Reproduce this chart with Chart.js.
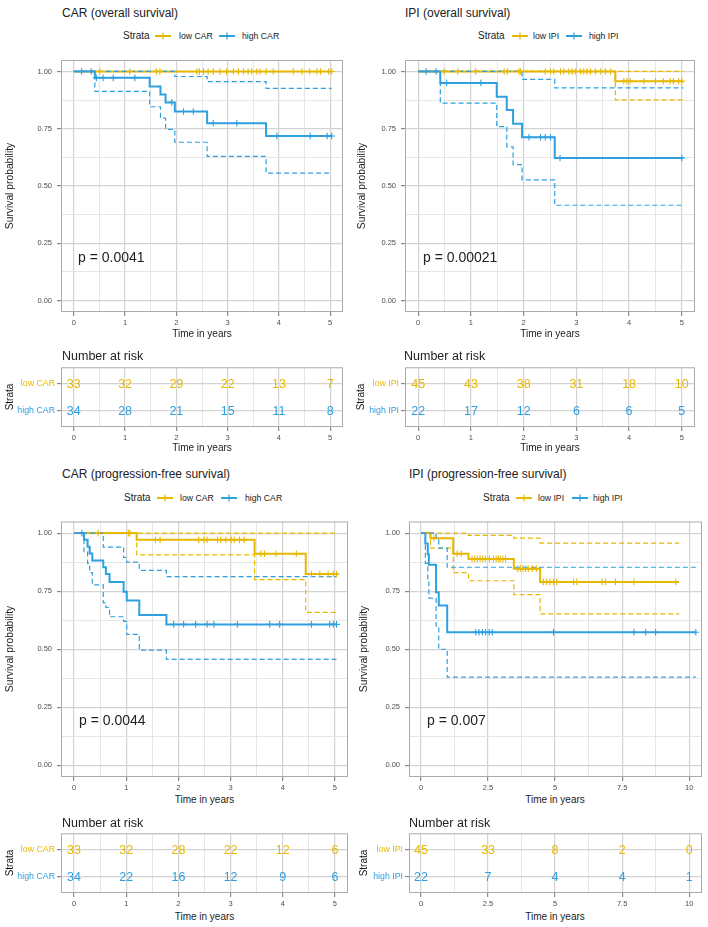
<!DOCTYPE html>
<html><head><meta charset="utf-8">
<script src="https://cdn.jsdelivr.net/npm/chart.js@4.4.1/dist/chart.umd.min.js"></script>
<style>
html,body{margin:0;padding:0;background:#fff;}
#root{position:relative;width:708px;height:927px;overflow:hidden;font-family:"Liberation Sans",Arial,Helvetica,sans-serif;color:#333;}
canvas{position:absolute;}
.t{position:absolute;white-space:nowrap;line-height:1;}
</style></head><body><div id="root"></div>
<script>
// ---------------- DATA ----------------
// Strata names
const carStrata = ['low CAR', 'high CAR'];
const ipiStrata = ['low IPI', 'high IPI'];
// axis ticks
const survTicks = [0, 0.25, 0.5, 0.75, 1];
const survTickLabels = ['0.00', '0.25', '0.50', '0.75', '1.00'];
const yearTicks5 = [0, 1, 2, 3, 4, 5];
const yearTickLabels5 = ['0', '1', '2', '3', '4', '5'];
const yearTicks10 = [0, 2.5, 5, 7.5, 10];
const yearTickLabels10 = ['0', '2.5', '5', '7.5', '10'];

// Panel A: CAR, overall survival
const osCarLowTime = [0, 5.03];
const osCarLowSurv = [1, 1];
const osCarLowCensor = [0.51, 1.09, 1.61, 1.68, 2.40, 2.45, 2.53, 2.62, 2.72, 2.85, 2.98, 3.11, 3.21, 3.31, 3.40, 3.47, 3.57, 3.63, 3.75, 3.89, 4.28, 4.45, 4.60, 4.74, 4.81, 4.97, 5.03];
const osCarHighTime = [0, 0.41, 1.48, 1.69, 1.79, 1.97, 2.60, 3.75, 5.03];
const osCarHighSurv = [1, 0.972, 0.934, 0.899, 0.865, 0.825, 0.774, 0.718, 0.718];
const osCarHighUpper = [1, 1, 1, 1, 1, 0.978, 0.956, 0.926, 0.926];
const osCarHighLower = [1, 0.913, 0.846, 0.796, 0.747, 0.691, 0.629, 0.556, 0.556];
const osCarHighCensor = [0.15, 0.34, 0.44, 0.57, 0.77, 1.19, 1.91, 2.14, 2.33, 2.72, 3.18, 3.96, 4.61, 4.94, 5.03];
const osCarRiskTime = [0, 1, 2, 3, 4, 5];
const osCarRiskLow = [33, 32, 29, 22, 13, 7];
const osCarRiskHigh = [34, 28, 21, 15, 11, 8];

// Panel B: IPI, overall survival
const osIpiLowTime = [0, 3.74, 5.03];
const osIpiLowSurv = [1, 0.957, 0.957];
const osIpiLowUpper = [1, 1, 1];
const osIpiLowLower = [1, 0.876, 0.876];
const osIpiLowCensor = [0.49, 0.75, 1.09, 1.63, 1.69, 1.91, 1.94, 2.41, 2.51, 2.57, 2.70, 2.76, 2.86, 2.92, 2.98, 3.08, 3.14, 3.20, 3.27, 3.36, 3.46, 3.55, 3.65, 3.90, 3.96, 4.02, 4.28, 4.50, 4.65, 4.78, 4.84, 4.94, 5.0];
const osIpiHighTime = [0, 0.42, 1.49, 1.68, 1.80, 1.97, 2.59, 5.03];
const osIpiHighSurv = [1, 0.95, 0.89, 0.832, 0.772, 0.713, 0.622, 0.622];
const osIpiHighUpper = [1, 1, 1, 1, 1, 0.965, 0.928, 0.928];
const osIpiHighLower = [1, 0.862, 0.759, 0.671, 0.593, 0.527, 0.416, 0.416];
const osIpiHighCensor = [0.15, 0.34, 0.54, 1.19, 2.10, 2.32, 2.41, 2.51, 2.69, 5.0];
const osIpiRiskTime = [0, 1, 2, 3, 4, 5];
const osIpiRiskLow = [45, 43, 38, 31, 18, 10];
const osIpiRiskHigh = [22, 17, 12, 6, 6, 5];

// Panel C: CAR, progression-free survival
const pfsCarLowTime = [0, 1.2, 3.46, 4.44, 5.06];
const pfsCarLowSurv = [1, 0.971, 0.911, 0.824, 0.824];
const pfsCarLowUpper = [1, 1, 1, 1, 1];
const pfsCarLowLower = [1, 0.906, 0.80, 0.659, 0.659];
const pfsCarLowCensor = [0.46, 1.04, 1.07, 1.56, 1.65, 2.39, 2.49, 2.55, 2.75, 2.81, 2.91, 3.01, 3.07, 3.17, 3.26, 3.58, 3.65, 3.87, 4.26, 4.55, 4.71, 4.87, 4.97, 5.03];
const pfsCarHighTime = [0, 0.19, 0.26, 0.30, 0.35, 0.56, 0.61, 0.68, 0.95, 1.01, 1.25, 1.77, 5.03];
const pfsCarHighSurv = [1, 0.971, 0.941, 0.912, 0.882, 0.853, 0.824, 0.79, 0.748, 0.71, 0.647, 0.607, 0.607];
const pfsCarHighUpper = [1, 1, 1, 1, 1, 0.94, 0.94, 0.94, 0.895, 0.875, 0.84, 0.813, 0.813];
const pfsCarHighLower = [1, 0.92, 0.87, 0.83, 0.777, 0.70, 0.68, 0.64, 0.62, 0.564, 0.496, 0.456, 0.456];
const pfsCarHighCensor = [0.15, 1.91, 2.10, 2.33, 2.55, 2.68, 3.13, 3.75, 3.94, 4.55, 4.90, 4.97, 5.03];
const pfsCarRiskTime = [0, 1, 2, 3, 4, 5];
const pfsCarRiskLow = [33, 32, 28, 22, 12, 6];
const pfsCarRiskHigh = [34, 22, 16, 12, 9, 6];

// Panel D: IPI, progression-free survival
const pfsIpiLowTime = [0, 0.35, 1.2, 1.77, 3.46, 4.44, 9.63];
const pfsIpiLowSurv = [1, 0.978, 0.911, 0.889, 0.847, 0.79, 0.79];
const pfsIpiLowUpper = [1, 1, 1, 0.99, 0.978, 0.957, 0.957];
const pfsIpiLowLower = [1, 0.935, 0.83, 0.795, 0.735, 0.652, 0.652];
const pfsIpiLowCensor = [0.48, 1.35, 1.5, 1.9, 2.0, 2.1, 2.2, 2.3, 2.4, 2.55, 2.7, 2.8, 2.88, 2.95, 3.05, 3.15, 3.6, 3.7, 3.8, 3.9, 4.0, 4.15, 4.3, 4.56, 4.69, 4.81, 4.94, 5.06, 5.69, 5.81, 6.75, 6.88, 7.25, 7.94, 9.5];
const pfsIpiHighTime = [0, 0.16, 0.25, 0.29, 0.56, 0.66, 0.975, 10.25];
const pfsIpiHighSurv = [1, 0.955, 0.909, 0.864, 0.745, 0.688, 0.573, 0.573];
const pfsIpiHighUpper = [1, 1, 1, 1, 0.97, 0.935, 0.853, 0.853];
const pfsIpiHighLower = [1, 0.87, 0.80, 0.72, 0.60, 0.50, 0.38, 0.38];
const pfsIpiHighCensor = [2.04, 2.16, 2.29, 2.41, 2.54, 2.66, 4.94, 7.94, 8.38, 8.75, 10.25];
const pfsIpiRiskTime = [0, 2.5, 5, 7.5, 10];
const pfsIpiRiskLow = [45, 33, 8, 2, 0];
const pfsIpiRiskHigh = [22, 7, 4, 4, 1];

// ---------------- STYLE / HELPERS ----------------
const FONT = '"Liberation Sans", Arial, Helvetica, sans-serif';
const YELLOW = '#E7B800', BLUE = '#2E9FDF';
const root = document.getElementById('root');

function txt(str, x, y, size, o = {}) {
  const d = document.createElement('div');
  d.className = 't'; d.textContent = str;
  d.style.fontSize = size + 'px';
  d.style.left = x + 'px'; d.style.top = y + 'px';
  if (o.color) d.style.color = o.color;
  if (o.rot) d.style.transform = 'translate(-50%,-50%) rotate(-90deg)';
  else if (o.center) d.style.transform = 'translate(-50%,-50%)';
  else d.style.transform = 'translateY(-50%)';
  root.appendChild(d);
}
function key(x, y, color) {
  const ns = 'http://www.w3.org/2000/svg';
  const s = document.createElementNS(ns, 'svg');
  s.setAttribute('width', 16); s.setAttribute('height', 10);
  s.style.position = 'absolute'; s.style.left = x + 'px'; s.style.top = (y - 5) + 'px';
  s.innerHTML = '<line x1="0" y1="5" x2="16" y2="5" stroke="' + color + '" stroke-width="2"/>' +
                '<line x1="8" y1="1.5" x2="8" y2="8.5" stroke="' + color + '" stroke-width="1.2"/>';
  root.appendChild(s);
}
function makeCanvas(b) {
  const c = document.createElement('canvas');
  c.width = b.w; c.height = b.h;
  c.style.left = b.x + 'px'; c.style.top = b.y + 'px';
  c.style.width = b.w + 'px'; c.style.height = b.h + 'px';
  root.appendChild(c);
  return c;
}
function mids(arr) { const m = []; for (let i = 0; i < arr.length - 1; i++) m.push((arr[i] + arr[i + 1]) / 2); return m; }
function stepAt(times, surv, t) { let s = surv[0]; for (let i = 0; i < times.length; i++) if (times[i] <= t + 1e-9) s = surv[i]; return s; }
function pts(times, vals) { return times.map((t, i) => ({ x: t, y: vals[i] })); }

const framePlugin = {
  id: 'frame',
  afterDatasetsDraw(chart) {
    const a = chart.chartArea, ctx = chart.ctx;
    ctx.save(); ctx.strokeStyle = '#ababab'; ctx.lineWidth = 1;
    ctx.strokeRect(a.left + 0.5, a.top + 0.5, a.right - a.left - 1, a.bottom - a.top - 1);
    ctx.restore();
  }
};
const countsPlugin = {
  id: 'counts',
  afterDatasetsDraw(chart) {
    const ctx = chart.ctx;
    chart.data.datasets.forEach((ds, i) => {
      if (!ds.counts) return;
      const meta = chart.getDatasetMeta(i);
      ctx.save();
      ctx.font = '12.5px ' + FONT; ctx.fillStyle = ds.textColor;
      ctx.textAlign = 'center'; ctx.textBaseline = 'middle';
      meta.data.forEach((p, j) => ctx.fillText(String(ds.counts[j]), p.x, p.y + 0.5));
      ctx.restore();
    });
  }
};

function axis(o) {
  const majors = o.majors, minors = o.minors || [];
  const isMaj = v => majors.some(m => Math.abs(m - v) < 1e-9);
  return {
    type: 'linear', min: o.min, max: o.max, reverse: !!o.reverse,
    afterBuildTicks(s) { s.ticks = majors.concat(minors).sort((a, b) => a - b).map(v => ({ value: v })); },
    afterFit(s) { s[o.sizeProp] = o.size; },
    ticks: {
      autoSkip: false, maxRotation: 0, minRotation: 0, padding: o.pad,
      font: { family: FONT, size: o.fontSize || 7.5 },
      color: c => {
        if (o.colors && c.tick) { const i = majors.findIndex(m => Math.abs(m - c.tick.value) < 1e-9); return i >= 0 ? o.colors[i] : '#4d4d4d'; }
        return '#4d4d4d';
      },
      callback: v => { const i = majors.findIndex(m => Math.abs(m - v) < 1e-9); return i < 0 ? '' : o.labels[i]; }
    },
    grid: {
      color: c => (c.tick && isMaj(c.tick.value)) ? '#d3d3d3' : '#e3e3e3',
      lineWidth: c => (c.tick && isMaj(c.tick.value)) ? 1.2 : 0.9,
      tickColor: c => (c.tick && isMaj(c.tick.value)) ? '#8a8a8a' : 'rgba(0,0,0,0)',
      tickLength: 4, drawTicks: true
    },
    border: { display: false }
  };
}

function baseOptions(cb, fr, xAxis, yAxis) {
  return {
    responsive: false, animation: false, events: [],
    layout: { autoPadding: false, padding: { top: fr.t - cb.y, right: cb.x + cb.w - fr.r, left: 0, bottom: 0 } },
    plugins: { legend: { display: false }, tooltip: { enabled: false } },
    scales: { x: xAxis, y: yAxis }
  };
}

function kmPanel(cb, fr, xr, xMaj, xLab, groups) {
  const cv = makeCanvas(cb);
  const ds = [];
  groups.forEach((g, gi) => {
    ds.push({ data: pts(g.time, g.surv), borderColor: g.color, borderWidth: 2, stepped: true, pointRadius: 0, fill: false, order: 20 - gi });
  });
  groups.forEach((g, gi) => {
    if (!g.upper) return;
    [g.upper, g.lower].forEach(v => ds.push({ data: pts(g.time, v), borderColor: g.color, borderWidth: 1.2, borderDash: [5, 3], stepped: true, pointRadius: 0, fill: false, order: 10 - gi }));
  });
  groups.forEach((g, gi) => {
    ds.push({ data: g.censor.map(t => ({ x: t, y: stepAt(g.time, g.surv, t) })), showLine: false, pointStyle: 'cross', pointRadius: 3.3, pointBorderWidth: 1.1, borderColor: g.color, backgroundColor: g.color, order: 5 - gi });
  });
  const xA = axis({ min: xr[0], max: xr[1], majors: xMaj, labels: xLab, minors: mids(xMaj), sizeProp: 'height', size: cb.y + cb.h - fr.b, pad: 2 });
  const yA = axis({ min: -0.05, max: 1.05, majors: survTicks, labels: survTickLabels, minors: mids(survTicks), sizeProp: 'width', size: fr.l - cb.x, pad: 5 });
  new Chart(cv, { type: 'line', data: { datasets: ds }, options: baseOptions(cb, fr, xA, yA), plugins: [framePlugin] });
}

function riskPanel(cb, fr, xr, xMaj, xLab, strata, times, low, high) {
  const cv = makeCanvas(cb);
  const ds = [
    { data: times.map(t => ({ x: t, y: 1 })), counts: low, textColor: YELLOW, showLine: false, pointRadius: 0 },
    { data: times.map(t => ({ x: t, y: 2 })), counts: high, textColor: BLUE, showLine: false, pointRadius: 0 }
  ];
  const xA = axis({ min: xr[0], max: xr[1], majors: xMaj, labels: xLab, minors: mids(xMaj), sizeProp: 'height', size: cb.y + cb.h - fr.b, pad: 2 });
  const yA = axis({ min: 0.4, max: 2.6, reverse: true, majors: [1, 2], labels: strata, minors: [], sizeProp: 'width', size: fr.l - cb.x, pad: 2, fontSize: 8.8, colors: [YELLOW, BLUE] });
  new Chart(cv, { type: 'line', data: { datasets: ds }, options: baseOptions(cb, fr, xA, yA), plugins: [framePlugin, countsPlugin] });
}

// ---------------- BUILD ----------------
// Panel A
kmPanel({ x: 0, y: 50, w: 354, h: 290 }, { l: 61, t: 60, r: 343, b: 312 }, [-0.25, 5.25], yearTicks5, yearTickLabels5, [
  { color: YELLOW, time: osCarLowTime, surv: osCarLowSurv, censor: osCarLowCensor },
  { color: BLUE, time: osCarHighTime, surv: osCarHighSurv, upper: osCarHighUpper, lower: osCarHighLower, censor: osCarHighCensor }
]);
riskPanel({ x: 0, y: 360, w: 354, h: 84 }, { l: 61, t: 367, r: 343, b: 427 }, [-0.25, 5.25], yearTicks5, yearTickLabels5, carStrata, osCarRiskTime, osCarRiskLow, osCarRiskHigh);

// Panel B
kmPanel({ x: 354, y: 50, w: 354, h: 290 }, { l: 405, t: 60, r: 695, b: 312 }, [-0.25, 5.25], yearTicks5, yearTickLabels5, [
  { color: YELLOW, time: osIpiLowTime, surv: osIpiLowSurv, upper: osIpiLowUpper, lower: osIpiLowLower, censor: osIpiLowCensor },
  { color: BLUE, time: osIpiHighTime, surv: osIpiHighSurv, upper: osIpiHighUpper, lower: osIpiHighLower, censor: osIpiHighCensor }
]);
riskPanel({ x: 354, y: 360, w: 354, h: 84 }, { l: 405, t: 367, r: 695, b: 427 }, [-0.25, 5.25], yearTicks5, yearTickLabels5, ipiStrata, osIpiRiskTime, osIpiRiskLow, osIpiRiskHigh);

// Panel C
kmPanel({ x: 0, y: 512, w: 354, h: 282 }, { l: 61, t: 521, r: 348, b: 777 }, [-0.25, 5.25], yearTicks5, yearTickLabels5, [
  { color: YELLOW, time: pfsCarLowTime, surv: pfsCarLowSurv, upper: pfsCarLowUpper, lower: pfsCarLowLower, censor: pfsCarLowCensor },
  { color: BLUE, time: pfsCarHighTime, surv: pfsCarHighSurv, upper: pfsCarHighUpper, lower: pfsCarHighLower, censor: pfsCarHighCensor }
]);
riskPanel({ x: 0, y: 826, w: 354, h: 84 }, { l: 61, t: 833, r: 348, b: 893 }, [-0.25, 5.25], yearTicks5, yearTickLabels5, carStrata, pfsCarRiskTime, pfsCarRiskLow, pfsCarRiskHigh);

// Panel D
kmPanel({ x: 354, y: 512, w: 354, h: 282 }, { l: 409, t: 521, r: 702, b: 777 }, [-0.45, 10.48], yearTicks10, yearTickLabels10, [
  { color: YELLOW, time: pfsIpiLowTime, surv: pfsIpiLowSurv, upper: pfsIpiLowUpper, lower: pfsIpiLowLower, censor: pfsIpiLowCensor },
  { color: BLUE, time: pfsIpiHighTime, surv: pfsIpiHighSurv, upper: pfsIpiHighUpper, lower: pfsIpiHighLower, censor: pfsIpiHighCensor }
]);
riskPanel({ x: 354, y: 826, w: 354, h: 84 }, { l: 409, t: 833, r: 702, b: 893 }, [-0.45, 10.48], yearTicks10, yearTickLabels10, ipiStrata, pfsIpiRiskTime, pfsIpiRiskLow, pfsIpiRiskHigh);

// ---------------- TEXT ----------------
const TC = '#222';
txt('CAR (overall survival)', 62, 12.5, 12, { color: TC });
txt('IPI (overall survival)', 405, 12.5, 12, { color: TC });
txt('CAR (progression-free survival)', 62, 473.5, 12, { color: TC });
txt('IPI (progression-free survival)', 409, 473.5, 12, { color: TC });

function legend(y, xs, names) {
  txt('Strata', xs[0], y, 10, { color: TC });
  key(xs[1], y, YELLOW);
  txt(names[0], xs[2], y, 8.7, { color: TC });
  key(xs[3], y, BLUE);
  txt(names[1], xs[4], y, 8.7, { color: TC });
}
legend(36, [123, 155, 179, 219, 242], carStrata);
legend(36, [478, 512, 533, 566, 589], ipiStrata);
legend(498, [124, 157, 180, 221, 245], carStrata);
legend(498, [483, 516, 538, 572, 593], ipiStrata);

txt('Survival probability', 10, 186, 10.3, { rot: true, color: TC });
txt('Survival probability', 362, 186, 10.3, { rot: true, color: TC });
txt('Survival probability', 10, 649, 10.3, { rot: true, color: TC });
txt('Survival probability', 364, 649, 10.3, { rot: true, color: TC });

txt('Time in years', 202, 334, 10, { center: true, color: TC });
txt('Time in years', 550, 334, 10, { center: true, color: TC });
txt('Time in years', 202, 448, 10, { center: true, color: TC });
txt('Time in years', 550, 448, 10, { center: true, color: TC });
txt('Time in years', 204.5, 800, 10, { center: true, color: TC });
txt('Time in years', 555, 800, 10, { center: true, color: TC });
txt('Time in years', 204.5, 917, 10, { center: true, color: TC });
txt('Time in years', 555, 917, 10, { center: true, color: TC });

txt('Number at risk', 62, 356, 12.5, { color: TC });
txt('Number at risk', 404, 356, 12.5, { color: TC });
txt('Number at risk', 62, 823, 12.5, { color: TC });
txt('Number at risk', 409, 823, 12.5, { color: TC });

txt('Strata', 10, 397, 10, { rot: true, color: '#111' });
txt('Strata', 361, 397, 10, { rot: true, color: '#111' });
txt('Strata', 10, 863, 10, { rot: true, color: '#111' });
txt('Strata', 364, 863, 10, { rot: true, color: '#111' });

txt('p = 0.0041', 78, 257, 14, { color: TC });
txt('p = 0.00021', 423, 257, 14, { color: TC });
txt('p = 0.0044', 79, 720, 14, { color: TC });
txt('p = 0.007', 427, 720, 14, { color: TC });
</script></body></html>
